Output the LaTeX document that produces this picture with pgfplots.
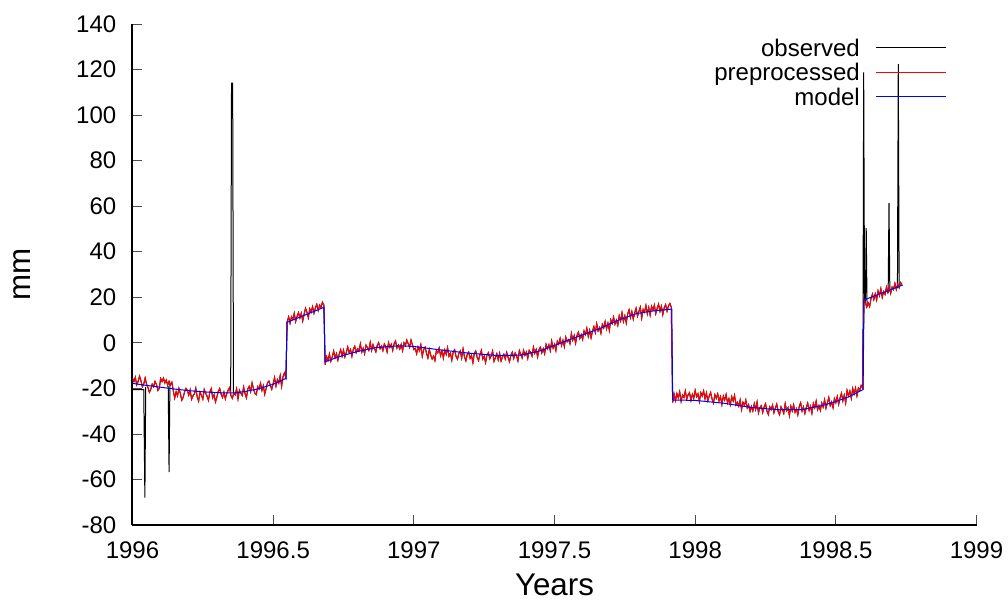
\documentclass[border=0pt]{standalone}
\usepackage{fontspec}
\setmainfont{Liberation Sans}
\usepackage{pgfplots}
\usepackage{pgfplotstable}
\pgfplotsset{compat=1.18}
\definecolor{prered}{rgb}{1,0,0}
\definecolor{modblue}{rgb}{0,0,1}

% preprocessed series (observed without outliers)
\pgfplotstableread[row sep=\\]{
t p\\
1996.000 -15.5\\ 1996.005 -17.0\\ 1996.010 -15.1\\ 1996.015 -18.5\\ 1996.020 -17.0\\
1996.025 -14.6\\ 1996.030 -16.6\\ 1996.035 -19.3\\ 1996.040 -18.1\\ 1996.045 -15.4\\
1996.050 -18.2\\ 1996.055 -19.7\\ 1996.060 -21.7\\ 1996.065 -20.4\\ 1996.070 -18.1\\
1996.075 -19.3\\ 1996.080 -17.0\\ 1996.085 -18.2\\ 1996.090 -20.9\\ 1996.095 -20.1\\
1996.100 -15.7\\ 1996.105 -17.0\\ 1996.110 -15.5\\ 1996.115 -17.6\\ 1996.120 -16.3\\
1996.125 -18.6\\ 1996.130 -16.9\\ 1996.135 -18.4\\ 1996.140 -17.3\\ 1996.145 -21.0\\
1996.150 -24.3\\ 1996.155 -21.5\\ 1996.160 -23.3\\ 1996.165 -20.0\\ 1996.170 -22.2\\
1996.175 -25.2\\ 1996.180 -24.0\\ 1996.185 -21.6\\ 1996.190 -20.0\\ 1996.195 -20.9\\
1996.200 -23.0\\ 1996.205 -20.7\\ 1996.210 -24.8\\ 1996.215 -23.3\\ 1996.220 -22.4\\
1996.225 -19.9\\ 1996.230 -23.8\\ 1996.235 -25.6\\ 1996.240 -21.7\\ 1996.245 -23.0\\
1996.250 -24.7\\ 1996.255 -20.5\\ 1996.260 -22.2\\ 1996.265 -23.4\\ 1996.270 -25.3\\
1996.275 -21.6\\ 1996.280 -20.1\\ 1996.285 -24.2\\ 1996.290 -22.8\\ 1996.295 -26.0\\
1996.300 -23.7\\ 1996.305 -21.3\\ 1996.310 -20.1\\ 1996.315 -22.6\\ 1996.320 -24.0\\
1996.325 -21.7\\ 1996.330 -24.6\\ 1996.335 -22.3\\ 1996.340 -20.8\\ 1996.345 -19.7\\
1996.350 -23.2\\ 1996.355 -24.4\\ 1996.360 -21.9\\ 1996.365 -22.8\\ 1996.370 -20.2\\
1996.375 -24.6\\ 1996.380 -20.8\\ 1996.385 -22.1\\ 1996.390 -23.1\\ 1996.395 -19.4\\
1996.400 -22.2\\ 1996.405 -24.2\\ 1996.410 -20.2\\ 1996.415 -19.1\\ 1996.420 -21.4\\
1996.425 -17.6\\ 1996.430 -20.2\\ 1996.435 -22.1\\ 1996.440 -22.8\\ 1996.445 -19.2\\
1996.450 -20.3\\ 1996.455 -17.7\\ 1996.460 -20.9\\ 1996.465 -18.8\\ 1996.470 -22.6\\
1996.475 -20.1\\ 1996.480 -17.5\\ 1996.485 -16.8\\ 1996.490 -18.7\\ 1996.495 -20.4\\
1996.500 -17.9\\ 1996.505 -15.2\\ 1996.510 -19.0\\ 1996.515 -16.2\\ 1996.520 -17.7\\
1996.525 -14.4\\ 1996.530 -19.1\\ 1996.535 -14.9\\ 1996.540 -13.2\\ 1996.545 -15.1\\
1996.550 9.4\\ 1996.555 11.4\\ 1996.560 8.6\\ 1996.565 11.4\\ 1996.570 10.3\\
1996.575 13.0\\ 1996.580 9.3\\ 1996.585 11.6\\ 1996.590 13.3\\ 1996.595 10.9\\
1996.600 13.0\\ 1996.605 9.6\\ 1996.610 12.6\\ 1996.615 15.2\\ 1996.620 13.5\\
1996.625 11.0\\ 1996.630 14.9\\ 1996.635 13.5\\ 1996.640 15.9\\ 1996.645 13.0\\
1996.650 15.3\\ 1996.655 16.9\\ 1996.660 14.2\\ 1996.665 16.6\\ 1996.670 15.5\\
1996.675 17.8\\ 1996.680 16.7\\
1996.685 -9.6\\ 1996.690 -6.1\\ 1996.695 -7.7\\ 1996.700 -4.9\\ 1996.705 -8.1\\
1996.710 -6.2\\ 1996.715 -3.6\\ 1996.720 -6.5\\ 1996.725 -4.7\\ 1996.730 -7.6\\
1996.735 -4.8\\ 1996.740 -3.0\\ 1996.745 -5.9\\ 1996.750 -3.2\\ 1996.755 -6.2\\
1996.760 -4.2\\ 1996.765 -1.8\\ 1996.770 -4.3\\ 1996.775 -2.9\\ 1996.780 -5.9\\
1996.785 -2.8\\ 1996.790 -1.5\\ 1996.795 -4.3\\ 1996.800 -2.6\\ 1996.805 -3.5\\
1996.810 -0.4\\ 1996.815 -4.1\\ 1996.820 -2.4\\ 1996.825 -4.8\\ 1996.830 -1.0\\
1996.835 -2.1\\ 1996.840 -3.3\\ 1996.845 0.2\\ 1996.850 -3.3\\ 1996.855 -0.8\\
1996.860 -2.5\\ 1996.865 -4.0\\ 1996.870 -1.1\\ 1996.875 0.1\\ 1996.880 -2.6\\
1996.885 -1.4\\ 1996.890 -3.4\\ 1996.895 -0.5\\ 1996.900 -1.7\\ 1996.905 -4.0\\
1996.910 0.1\\ 1996.915 -2.0\\ 1996.920 -0.7\\ 1996.925 -3.3\\ 1996.930 -0.4\\
1996.935 0.8\\ 1996.940 -2.3\\ 1996.945 -1.0\\ 1996.950 -2.7\\ 1996.955 -0.7\\
1996.960 -3.5\\ 1996.965 0.0\\ 1996.970 -1.2\\ 1996.975 1.2\\ 1996.980 -0.4\\
1996.985 -2.0\\ 1996.990 1.2\\ 1996.995 -0.9\\ 1997.000 -2.9\\ 1997.005 -2.4\\
1997.010 -4.8\\ 1997.015 -1.8\\ 1997.020 -3.5\\ 1997.025 -0.9\\ 1997.030 -5.9\\
1997.035 -3.0\\ 1997.040 -1.9\\ 1997.045 -4.5\\ 1997.050 -6.6\\ 1997.055 -2.9\\
1997.060 -5.4\\ 1997.065 -7.1\\ 1997.070 -5.8\\ 1997.075 -7.8\\ 1997.080 -3.5\\
1997.085 -4.4\\ 1997.090 -2.3\\ 1997.095 -5.7\\ 1997.100 -3.5\\ 1997.105 -6.7\\
1997.110 -3.1\\ 1997.115 -5.1\\ 1997.120 -2.1\\ 1997.125 -5.9\\ 1997.130 -4.5\\
1997.135 -7.6\\ 1997.140 -4.0\\ 1997.145 -3.0\\ 1997.150 -5.9\\ 1997.155 -7.2\\
1997.160 -4.7\\ 1997.165 -3.6\\ 1997.170 -6.7\\ 1997.175 -2.7\\ 1997.180 -6.1\\
1997.185 -7.9\\ 1997.190 -5.0\\ 1997.195 -4.1\\ 1997.200 -6.8\\ 1997.205 -5.6\\
1997.210 -8.7\\ 1997.215 -4.6\\ 1997.220 -3.6\\ 1997.225 -6.3\\ 1997.230 -7.8\\
1997.235 -5.2\\ 1997.240 -3.3\\ 1997.245 -7.1\\ 1997.250 -5.9\\ 1997.255 -8.7\\
1997.260 -5.3\\ 1997.265 -4.3\\ 1997.270 -7.0\\ 1997.275 -5.7\\ 1997.280 -3.6\\
1997.285 -8.1\\ 1997.290 -6.6\\ 1997.295 -4.8\\ 1997.300 -7.5\\ 1997.305 -4.6\\
1997.310 -8.0\\ 1997.315 -6.2\\ 1997.320 -5.0\\ 1997.325 -7.1\\ 1997.330 -4.2\\
1997.335 -6.4\\ 1997.340 -8.3\\ 1997.345 -5.5\\ 1997.350 -4.1\\ 1997.355 -6.9\\
1997.360 -4.5\\ 1997.365 -5.7\\ 1997.370 -7.9\\ 1997.375 -3.4\\ 1997.380 -5.0\\
1997.385 -6.6\\ 1997.390 -3.3\\ 1997.395 -5.5\\ 1997.400 -4.0\\ 1997.405 -6.8\\
1997.410 -3.3\\ 1997.415 -4.2\\ 1997.420 -5.8\\ 1997.425 -1.9\\ 1997.430 -4.6\\
1997.435 -2.9\\ 1997.440 -6.2\\ 1997.445 -2.9\\ 1997.450 -1.9\\ 1997.455 -4.4\\
1997.460 -2.6\\ 1997.465 -4.8\\ 1997.470 -0.7\\ 1997.475 -2.6\\ 1997.480 -0.9\\
1997.485 -3.5\\ 1997.490 0.8\\ 1997.495 -2.3\\ 1997.500 -0.6\\ 1997.505 -3.4\\
1997.510 0.7\\ 1997.515 -0.6\\ 1997.520 1.9\\ 1997.525 -1.2\\ 1997.530 1.1\\
1997.535 -1.7\\ 1997.540 2.5\\ 1997.545 0.5\\ 1997.550 1.4\\ 1997.555 -0.4\\
1997.560 4.1\\ 1997.565 1.2\\ 1997.570 3.2\\ 1997.575 -0.2\\ 1997.580 3.2\\
1997.585 4.7\\ 1997.590 1.9\\ 1997.595 3.6\\ 1997.600 1.5\\ 1997.605 5.2\\
1997.610 3.6\\ 1997.615 6.4\\ 1997.620 2.8\\ 1997.625 5.5\\ 1997.630 2.2\\
1997.635 5.2\\ 1997.640 7.1\\ 1997.645 4.5\\ 1997.650 8.4\\ 1997.655 5.2\\
1997.660 6.7\\ 1997.665 4.2\\ 1997.670 8.1\\ 1997.675 6.5\\ 1997.680 9.3\\
1997.685 6.1\\ 1997.690 8.6\\ 1997.695 5.4\\ 1997.700 10.1\\ 1997.705 8.5\\
1997.710 11.3\\ 1997.715 8.2\\ 1997.720 10.0\\ 1997.725 7.7\\ 1997.730 11.9\\
1997.735 9.6\\ 1997.740 13.2\\ 1997.745 9.3\\ 1997.750 11.8\\ 1997.755 8.7\\
1997.760 12.6\\ 1997.765 14.5\\ 1997.770 11.1\\ 1997.775 13.7\\ 1997.780 10.4\\
1997.785 13.1\\ 1997.790 15.2\\ 1997.795 11.7\\ 1997.800 13.8\\ 1997.805 15.7\\
1997.810 10.9\\ 1997.815 14.7\\ 1997.820 13.5\\ 1997.825 16.4\\ 1997.830 12.7\\
1997.835 15.5\\ 1997.840 12.2\\ 1997.845 16.1\\ 1997.850 14.4\\ 1997.855 16.6\\
1997.860 12.8\\ 1997.865 15.2\\ 1997.870 17.0\\ 1997.875 13.8\\ 1997.880 16.1\\
1997.885 12.4\\ 1997.890 15.4\\ 1997.895 16.8\\ 1997.900 13.9\\ 1997.905 16.2\\
1997.910 17.3\\ 1997.915 15.7\\
1997.920 -26.2\\ 1997.925 -22.5\\ 1997.930 -25.4\\ 1997.935 -22.3\\ 1997.940 -24.2\\
1997.945 -21.5\\ 1997.950 -25.7\\ 1997.955 -22.9\\ 1997.960 -24.0\\ 1997.965 -21.1\\
1997.970 -24.8\\ 1997.975 -22.8\\ 1997.980 -21.9\\ 1997.985 -25.3\\ 1997.990 -22.6\\
1997.995 -24.4\\ 1998.000 -20.9\\ 1998.005 -23.7\\ 1998.010 -22.4\\ 1998.015 -25.8\\
1998.020 -21.9\\ 1998.025 -23.4\\ 1998.030 -21.1\\ 1998.035 -24.6\\ 1998.040 -22.0\\
1998.045 -25.5\\ 1998.050 -23.4\\ 1998.055 -21.8\\ 1998.060 -24.6\\ 1998.065 -26.5\\
1998.070 -22.8\\ 1998.075 -24.4\\ 1998.080 -22.4\\ 1998.085 -25.5\\ 1998.090 -23.6\\
1998.095 -27.1\\ 1998.100 -23.4\\ 1998.105 -25.1\\ 1998.110 -22.7\\ 1998.115 -26.4\\
1998.120 -24.5\\ 1998.125 -27.2\\ 1998.130 -23.6\\ 1998.135 -25.5\\ 1998.140 -23.0\\
1998.145 -27.3\\ 1998.150 -26.1\\ 1998.155 -27.8\\ 1998.160 -25.1\\ 1998.165 -29.3\\
1998.170 -26.1\\ 1998.175 -27.5\\ 1998.180 -25.1\\ 1998.185 -28.6\\ 1998.190 -27.2\\
1998.195 -30.1\\ 1998.200 -27.9\\ 1998.205 -29.9\\ 1998.210 -26.7\\ 1998.215 -29.3\\
1998.220 -26.0\\ 1998.225 -30.8\\ 1998.230 -28.4\\ 1998.235 -27.6\\ 1998.240 -30.6\\
1998.245 -28.2\\ 1998.250 -26.7\\ 1998.255 -29.9\\ 1998.260 -31.5\\ 1998.265 -28.1\\
1998.270 -29.3\\ 1998.275 -27.3\\ 1998.280 -30.7\\ 1998.285 -28.7\\ 1998.290 -26.9\\
1998.295 -30.2\\ 1998.300 -31.6\\ 1998.305 -28.1\\ 1998.310 -29.3\\ 1998.315 -31.0\\
1998.320 -26.7\\ 1998.325 -29.8\\ 1998.330 -28.5\\ 1998.335 -32.0\\ 1998.340 -27.8\\
1998.345 -29.9\\ 1998.350 -27.2\\ 1998.355 -30.5\\ 1998.360 -28.9\\ 1998.365 -31.6\\
1998.370 -27.9\\ 1998.375 -26.3\\ 1998.380 -30.0\\ 1998.385 -28.1\\ 1998.390 -31.0\\
1998.395 -28.4\\ 1998.400 -26.5\\ 1998.405 -29.7\\ 1998.410 -27.8\\ 1998.415 -30.9\\
1998.420 -26.6\\ 1998.425 -28.5\\ 1998.430 -25.6\\ 1998.435 -29.4\\ 1998.440 -27.6\\
1998.445 -29.7\\ 1998.450 -26.4\\ 1998.455 -28.2\\ 1998.460 -25.0\\ 1998.465 -28.7\\
1998.470 -26.3\\ 1998.475 -24.0\\ 1998.480 -27.6\\ 1998.485 -26.0\\ 1998.490 -28.5\\
1998.495 -24.5\\ 1998.500 -26.3\\ 1998.505 -23.6\\ 1998.510 -27.0\\ 1998.515 -24.2\\
1998.520 -22.1\\ 1998.525 -25.5\\ 1998.530 -23.0\\ 1998.535 -26.4\\ 1998.540 -20.9\\
1998.545 -23.3\\ 1998.550 -21.2\\ 1998.555 -24.4\\ 1998.560 -20.0\\ 1998.565 -22.4\\
1998.570 -19.8\\ 1998.575 -23.3\\ 1998.580 -19.9\\ 1998.585 -20.8\\ 1998.590 -18.7\\
1998.595 -19.8\\
1998.600 19.1\\ 1998.605 17.6\\ 1998.610 15.7\\ 1998.615 17.5\\ 1998.620 15.9\\
1998.625 19.4\\ 1998.630 21.4\\ 1998.635 19.0\\ 1998.640 21.5\\ 1998.645 18.8\\
1998.650 22.8\\ 1998.655 20.7\\ 1998.660 23.8\\ 1998.665 20.0\\ 1998.670 22.5\\
1998.675 21.3\\ 1998.680 24.5\\ 1998.685 22.1\\ 1998.690 24.5\\ 1998.695 21.7\\
1998.700 24.5\\ 1998.705 23.4\\ 1998.710 26.1\\ 1998.715 23.4\\ 1998.720 25.7\\
1998.725 24.2\\ 1998.730 26.5\\ 1998.735 25.7\\
}\pre

% fitted model
\pgfplotstableread{
t m
1996.000 -17.8
1996.050 -18.7
1996.100 -19.5
1996.150 -20.3
1996.200 -21.0
1996.250 -21.5
1996.300 -21.9
1996.360 -22.0
1996.400 -21.4
1996.450 -20.1
1996.500 -18.2
1996.546 -15.6
1996.549 9.0
1996.681 15.6
1996.684 -8.3
1996.750 -5.5
1996.800 -3.8
1996.870 -2.0
1996.950 -1.3
1997.000 -1.6
1997.100 -3.2
1997.200 -4.6
1997.300 -5.6
1997.380 -5.4
1997.450 -3.5
1997.530 0.3
1997.600 3.5
1997.660 6.2
1997.720 9.6
1997.790 12.8
1997.850 14.0
1997.917 14.8
1997.920 -25.1
1998.000 -25.3
1998.100 -26.5
1998.200 -28.4
1998.300 -29.4
1998.380 -29.3
1998.450 -27.6
1998.500 -25.8
1998.550 -23.5
1998.597 -20.5
1998.600 18.8
1998.738 25.4
}\model

% legend sample drawn after the entry text
\newcommand\sample[1]{\hspace{12pt}\tikz[baseline=0pt]\draw[draw=#1, line width=0.8pt] (0pt,6.3pt) -- (52pt,6.3pt);}

\begin{document}
\begin{tikzpicture}
\begin{axis}[
  at={(0pt,0pt)}, anchor=south west,
  scale only axis,
  width=633pt, height=375.75pt,
  xmin=1996, xmax=1999,
  ymin=-80, ymax=140,
  axis lines=left,
  axis line style={-, line width=1.5pt},
  xtick={1996,1996.5,1997,1997.5,1998,1998.5,1999},
  xticklabels={1996,1996.5,1997,1997.5,1998,1998.5,1999},
  ytick={-80,-60,...,140},
  tick align=inside,
  major tick length=7.5pt,
  tick style={black!70, line width=0.6pt},
  /pgf/number format/assume math mode=true,
  ticklabel style={font=\fontsize{18}{21}\selectfont},
  yticklabel style={inner sep=0pt, xshift=-12pt},
  xticklabel style={inner sep=0pt, yshift=-12.5pt},
  xlabel={Years}, ylabel={mm},
  label style={font=\fontsize{23.5}{28}\selectfont},
  xlabel style={at={(axis description cs:0.5,-0.12)}, anchor=center},
  ylabel style={at={(axis description cs:-0.131,0.5)}, anchor=center, rotate=0},
  legend plot pos=none,
  legend cell align=right,
  legend style={at={(axis description cs:0.966,0.972)}, anchor=north east,
    draw=none, fill=none, inner sep=0pt,
    font=\fontsize{18}{21}\selectfont,
    nodes={inner sep=1pt, text height=12.5pt, text depth=3.9pt}},
]
% observed = preprocessed series plus the outliers
\addplot[black, line width=0.75pt] table[x=t, y=p] {\pre};
\addlegendentry{observed\sample{black}}
\addplot[black, line width=0.75pt, forget plot] coordinates {
(1996.0,-20.5) (1996.040,-20.5) (1996.044,-68) (1996.047,-19.5)};
\addplot[black, line width=0.75pt, forget plot] coordinates {
(1996.127,-19) (1996.130,-56.8) (1996.133,-18)};
\addplot[black, line width=0.75pt, forget plot] coordinates {
(1996.349,-21.5) (1996.352,114) (1996.356,114) (1996.359,-22)};
\addplot[black, line width=0.75pt, forget plot] coordinates {
(1998.596,-20.3) (1998.599,118.8) (1998.602,18)};
\addplot[black, line width=0.75pt, forget plot] coordinates {
(1998.605,17) (1998.608,50.4) (1998.611,16)};
\addplot[black, line width=0.75pt, forget plot] coordinates {
(1998.686,22) (1998.689,61.3) (1998.692,22.5)};
\addplot[black, line width=0.75pt, forget plot] coordinates {
(1998.719,24) (1998.722,122.4) (1998.725,24.5)};
\addplot[prered, line width=0.75pt] table[x=t, y=p] {\pre};
\addlegendentry{preprocessed\sample{prered}}
\addplot[modblue, line width=0.75pt] table[x=t, y=m] {\model};
\addlegendentry{model\sample{modblue}}
\end{axis}
\path[use as bounding box] (-99.375pt,-55.5pt) rectangle (656.625pt,393.75pt);
\end{tikzpicture}
\end{document}
